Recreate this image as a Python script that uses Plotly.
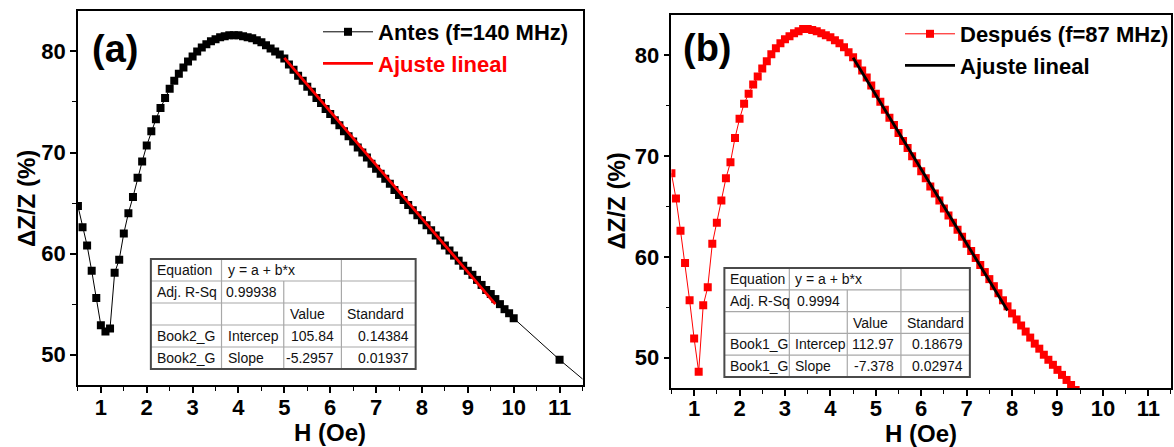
import plotly.graph_objects as go

FONT = "Liberation Sans, Arial, sans-serif"
W, H = 1174, 447

# ---------------- data ----------------
H_a = [0.5, 0.6, 0.7, 0.8, 0.9, 1.0, 1.1, 1.2, 1.3, 1.4, 1.5, 1.6, 1.7, 1.8, 1.9,
       2.0, 2.1, 2.2, 2.3, 2.4, 2.5, 2.6, 2.7, 2.8, 2.9, 3.0, 3.1, 3.2, 3.3, 3.4,
       3.5, 3.6, 3.7, 3.8, 3.9, 4.0, 4.1, 4.2, 4.3, 4.4, 4.5, 4.6, 4.7, 4.8, 4.9,
       5.0, 5.1, 5.2, 5.3, 5.4, 5.5, 5.6, 5.7, 5.8, 5.9, 6.0, 6.1, 6.2, 6.3, 6.4,
       6.5, 6.6, 6.7, 6.8, 6.9, 7.0, 7.1, 7.2, 7.3, 7.4, 7.5, 7.6, 7.7, 7.8, 7.9,
       8.0, 8.1, 8.2, 8.3, 8.4, 8.5, 8.6, 8.7, 8.8, 8.9, 9.0, 9.1, 9.2, 9.3, 9.4,
       9.5, 9.6, 9.7, 9.8, 9.9, 10.0, 11.0, 12.0]
Z_a = [64.7, 62.6, 60.8, 58.3, 55.6, 52.9, 52.3, 52.6, 58.1, 59.4, 62.0, 64.0, 65.6, 67.5, 69.1,
       70.7, 72.1, 73.3, 74.4, 75.4, 76.3, 77.1, 77.8, 78.4, 79.0, 79.5, 80.0, 80.4, 80.7, 81.0,
       81.2, 81.4, 81.5, 81.6, 81.6, 81.6, 81.5, 81.4, 81.3, 81.1, 80.9, 80.6, 80.3, 80.0, 79.7,
       79.3, 78.7, 78.2, 77.6, 77.1, 76.5, 76.0, 75.4, 74.9, 74.3, 73.8, 73.2, 72.7, 72.1, 71.6,
       71.1, 70.5, 70.0, 69.5, 68.9, 68.4, 67.9, 67.4, 66.9, 66.3, 65.8, 65.3, 64.8, 64.3, 63.8,
       63.3, 62.8, 62.3, 61.8, 61.3, 60.8, 60.3, 59.8, 59.3, 58.8, 58.3, 57.9, 57.4, 56.9, 56.4,
       56.0, 55.5, 55.0, 54.5, 54.1, 53.6, 49.5, 45.7]

H_b = [0.5, 0.6, 0.7, 0.8, 0.9, 1.0, 1.1, 1.2, 1.3, 1.4, 1.5, 1.6, 1.7, 1.8, 1.9,
       2.0, 2.1, 2.2, 2.3, 2.4, 2.5, 2.6, 2.7, 2.8, 2.9, 3.0, 3.1, 3.2, 3.3, 3.4,
       3.5, 3.6, 3.7, 3.8, 3.9, 4.0, 4.1, 4.2, 4.3, 4.4, 4.5, 4.6, 4.7, 4.8, 4.9,
       5.0, 5.1, 5.2, 5.3, 5.4, 5.5, 5.6, 5.7, 5.8, 5.9, 6.0, 6.1, 6.2, 6.3, 6.4,
       6.5, 6.6, 6.7, 6.8, 6.9, 7.0, 7.1, 7.2, 7.3, 7.4, 7.5, 7.6, 7.7, 7.8, 7.9,
       8.0, 8.1, 8.2, 8.3, 8.4, 8.5, 8.6, 8.7, 8.8, 8.9, 9.0, 9.1, 9.2, 9.3, 9.4, 9.5]
Z_b = [68.3, 65.8, 62.6, 59.4, 55.7, 51.9, 48.6, 55.2, 57.0, 61.3, 63.4, 65.6, 67.8, 69.4, 71.8,
       73.7, 75.2, 76.2, 77.1, 77.9, 78.7, 79.4, 80.1, 80.7, 81.2, 81.6, 81.9, 82.2, 82.4, 82.6,
       82.6, 82.5, 82.4, 82.2, 82.0, 81.8, 81.5, 81.2, 80.8, 80.3, 79.8, 79.2, 78.5, 77.8, 77.0,
       76.2, 75.4, 74.6, 73.8, 73.1, 72.3, 71.5, 70.8, 70.0, 69.3, 68.5, 67.8, 67.0, 66.3, 65.6,
       64.8, 64.1, 63.4, 62.7, 62.0, 61.3, 60.6, 59.9, 59.2, 58.5, 57.8, 57.1, 56.4, 55.7, 55.1,
       54.4, 53.8, 53.2, 52.6, 52.0, 51.4, 50.9, 50.3, 49.8, 49.3, 48.8, 48.3, 47.8, 47.3, 46.8, 46.3]

# linear fits (from the inset tables) and fitted H ranges
fit_a = {"a": 105.84, "b": -5.2957, "range": [5.0, 9.6]}
fit_b = {"a": 112.97, "b": -7.378, "range": [4.5, 7.9]}

x_ticks = [1, 2, 3, 4, 5, 6, 7, 8, 9, 10, 11]
y_ticks = [50, 60, 70, 80]

names_a = ["Antes (f=140 MHz)", "Ajuste lineal"]
names_b = ["Después (f=87 MHz)", "Ajuste lineal"]
x_title = "H (Oe)"
y_title = "ΔZ/Z (%)"
panel_labels = ["(a)", "(b)"]

table_a = [["Equation", "y = a + b*x", "", ""],
           ["Adj. R-Sq", "0.99938", "", ""],
           ["", "", "Value", "Standard"],
           ["Book2_G", "Intercep", "105.84", "0.14384"],
           ["Book2_G", "Slope", "-5.2957", "0.01937"]]
table_b = [["Equation", "y = a + b*x", "", ""],
           ["Adj. R-Sq", "0.9994", "", ""],
           ["", "", "Value", "Standard"],
           ["Book1_G", "Intercep", "112.97", "0.18679"],
           ["Book1_G", "Slope", "-7.378", "0.02974"]]


def px(x):
    return x / W


def py(y):
    return 1 - y / H


fig = go.Figure()

# panel (a)
fig.add_trace(go.Scatter(x=H_a, y=Z_a, mode="lines+markers", name=names_a[0],
                         line=dict(color="black", width=1),
                         marker=dict(symbol="square", size=8, color="black"),
                         xaxis="x", yaxis="y", legend="legend"))
fa = [fit_a["a"] + fit_a["b"] * h for h in fit_a["range"]]
fig.add_trace(go.Scatter(x=fit_a["range"], y=fa, mode="lines",
                         name="<span style='color:#ff0000'>" + names_a[1] + "</span>",
                         line=dict(color="#ff0000", width=2.8),
                         xaxis="x", yaxis="y", legend="legend"))

# panel (b)
fig.add_trace(go.Scatter(x=H_b, y=Z_b, mode="lines+markers", name=names_b[0],
                         line=dict(color="#ff0000", width=1),
                         marker=dict(symbol="square", size=8, color="#ff0000"),
                         xaxis="x2", yaxis="y2", legend="legend2"))
fb = [fit_b["a"] + fit_b["b"] * h for h in fit_b["range"]]
fig.add_trace(go.Scatter(x=fit_b["range"], y=fb, mode="lines", name=names_b[1],
                         line=dict(color="black", width=2.8),
                         xaxis="x2", yaxis="y2", legend="legend2"))

tickfont = dict(family=FONT, size=22, color="black", weight="bold")
titlefont = dict(family=FONT, size=24, color="black", weight="bold")


def xaxis(dom, anchor, standoff):
    return dict(domain=dom, anchor=anchor, range=[0.5, 11.5], tickvals=x_ticks,
                showgrid=False, zeroline=False, showline=True, linecolor="black",
                linewidth=1.5, mirror=True, ticks="outside", ticklen=6, tickwidth=1.5,
                tickcolor="black", tickfont=tickfont, ticklabelstandoff=standoff,
                minor=dict(ticks="outside", dtick=0.5, tick0=0.5, ticklen=4,
                           tickwidth=1.2, tickcolor="black", showgrid=False))


def yaxis(dom, anchor):
    return dict(domain=dom, anchor=anchor, range=[47, 84], tickvals=y_ticks,
                showgrid=False, zeroline=False, showline=True, linecolor="black",
                linewidth=1.5, mirror=True, ticks="outside", ticklen=6, tickwidth=1.5,
                tickcolor="black", tickfont=tickfont,
                minor=dict(ticks="outside", dtick=5, tick0=0, ticklen=4,
                           tickwidth=1.2, tickcolor="black", showgrid=False))


legfont = dict(family=FONT, size=22, color="black", weight="bold")

fig.update_layout(
    width=W, height=H, margin=dict(l=0, r=0, t=0, b=0),
    paper_bgcolor="white", plot_bgcolor="white",
    xaxis=xaxis([px(78), px(583)], "y", -4),
    yaxis=yaxis([py(385), py(11)], "x"),
    xaxis2=xaxis([px(672), px(1172)], "y2", -6),
    yaxis2=yaxis([py(388), py(15)], "x2"),
    legend=dict(x=px(318), y=py(11), xanchor="left", yanchor="top",
                bgcolor="rgba(0,0,0,0)", font=legfont, itemwidth=50,
                tracegroupgap=0),
    legend2=dict(x=px(901), y=py(13), xanchor="left", yanchor="top",
                 bgcolor="rgba(0,0,0,0)", font=legfont, itemwidth=50,
                 tracegroupgap=0),
    showlegend=True,
)

# axis titles as annotations (exact placement)
for cx, cy_x, cy_y, yx in [(330.5, 432, 198, 26), (922, 433, 201, 617)]:
    fig.add_annotation(x=px(cx), y=py(cy_x), xref="paper", yref="paper", text=x_title,
                       showarrow=False, xanchor="center", yanchor="middle", font=titlefont)
    fig.add_annotation(x=px(yx), y=py(cy_y), xref="paper", yref="paper", text=y_title,
                       showarrow=False, xanchor="center", yanchor="middle", textangle=-90,
                       font=titlefont)

# panel labels
for lbl, (lx, ly) in zip(panel_labels, [(115, 49), (708, 48)]):
    fig.add_annotation(x=px(lx), y=py(ly), xref="paper", yref="paper", text=lbl,
                       showarrow=False, xanchor="center", yanchor="middle",
                       font=dict(family=FONT, size=38, color="black", weight="bold"))


def draw_table(rows, cols_px, top, bottom):
    n = len(rows)
    rh = (bottom - top) / n
    inner = dict(color="#a8a8a8", width=1.2)
    for i in range(1, n):
        yy = top + i * rh
        fig.add_shape(type="line", xref="paper", yref="paper",
                      x0=px(cols_px[0]), x1=px(cols_px[-1]), y0=py(yy), y1=py(yy), line=inner)
    for j in range(1, len(cols_px) - 1):
        y_start = top if j != 2 else top + rh  # first row: equation spans two cells
        fig.add_shape(type="line", xref="paper", yref="paper",
                      x0=px(cols_px[j]), x1=px(cols_px[j]), y0=py(y_start), y1=py(bottom),
                      line=inner)
    fig.add_shape(type="rect", xref="paper", yref="paper",
                  x0=px(cols_px[0]), x1=px(cols_px[-1]), y0=py(bottom), y1=py(top),
                  line=dict(color="#4a4a4a", width=2), fillcolor="rgba(255,255,255,0)")
    for i, row in enumerate(rows):
        yc = top + (i + 0.5) * rh
        for j, txt in enumerate(row):
            if not txt:
                continue
            numeric = txt[0].isdigit() or txt[0] == "-"
            if numeric:
                xx, anc = cols_px[j + 1] - 5, "right"
            else:
                xx, anc = cols_px[j] + 4, "left"
            fig.add_annotation(x=px(xx), y=py(yc), xref="paper", yref="paper", text=txt,
                               showarrow=False, xanchor=anc, yanchor="middle",
                               font=dict(family=FONT, size=14, color="#111111"))


draw_table(table_a, [151, 221.7, 284, 341.7, 416], 259, 369)
draw_table(table_b, [725, 790, 848, 901.7, 970.7], 268, 377)

fig.write_html("out.html")
